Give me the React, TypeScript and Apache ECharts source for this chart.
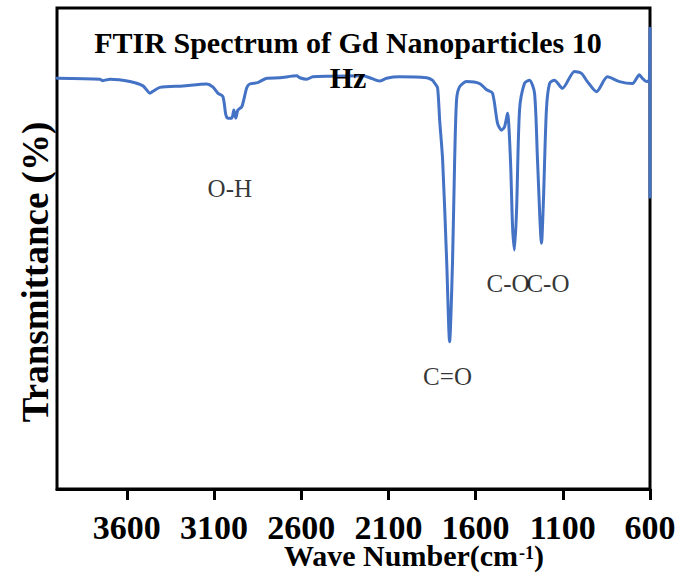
import React, { useEffect, useRef } from "react";
import * as echarts from "echarts";

// Wavenumber (cm-1), descending
const waveNumbers = [
  4000, 3754, 3737, 3696, 3582, 3507, 3467, 3450, 3410, 3278, 3141, 3107, 3078, 3049, 3032, 3021,
  2998, 2986, 2975, 2963, 2940, 2912, 2895, 2849, 2797, 2723, 2625, 2608, 2568, 2534, 2436, 2247,
  2207, 2150, 2110, 2036, 1881, 1847, 1835, 1818, 1806, 1789, 1766, 1749, 1732, 1720, 1709, 1692,
  1652, 1577, 1537, 1503, 1474, 1451, 1434, 1417, 1400, 1388, 1377, 1365, 1348, 1320, 1291, 1262,
  1245, 1222, 1211, 1194, 1176, 1148, 1102, 1033, 993, 959, 907, 844, 775, 701, 661, 644, 621, 604,
  600, 600,
];
// Transmittance (%)
const transmittance = [
  85.4, 85.2, 84.9, 85.2, 84.7, 83.8, 82.3, 82.7, 83.5, 83.8, 84.2, 83.6, 82.3, 81.6, 77.8, 77.1,
  77.1, 78.8, 77.1, 78.8, 79.5, 83.4, 84.2, 84.5, 85.4, 85.5, 85.9, 85.5, 85.2, 85.7, 85.8, 85.9,
  85.5, 84.8, 85.4, 85.7, 85.5, 85.0, 84.4, 83.4, 76.7, 68.4, 47.6, 30.6, 47.6, 68.4, 80.9, 83.6,
  84.7, 84.3, 83.0, 82.3, 76.0, 74.6, 75.3, 78.1, 68.4, 54.5, 49.7, 58.0, 78.8, 84.3, 85.0, 82.3,
  68.4, 51.1, 60.0, 78.8, 84.3, 85.0, 83.3, 86.8, 86.4, 84.7, 82.6, 85.7, 84.7, 84.3, 86.1, 85.4,
  84.7, 85.0, 95.8, 60.7,
];

const xTicks = [600, 1100, 1600, 2100, 2600, 3100, 3600];

const annotationNames = ["O-H", "C=O", "C-O", "C-O"];
const annotationX = [3009, 1761, 1414, 1185];
const annotationY = [62.4, 23.3, 42.8, 42.8];

const SERIF = "'Liberation Serif', 'Times New Roman', serif";

export default function App() {
  const ref = useRef<HTMLDivElement>(null);

  useEffect(() => {
    if (!ref.current) return;
    const chart = echarts.init(ref.current, null, { renderer: "svg" });
    const lineData = waveNumbers.map((w, i) => [w, transmittance[i]]);
    const annData = annotationNames.map((n, i) => ({ name: n, value: [annotationX[i], annotationY[i]] }));

    chart.setOption({
      animation: false,
      backgroundColor: "#fff",
      grid: {
        left: 57,
        right: 41,
        top: 8,
        bottom: 85,
        show: true,
        borderColor: "#000",
        borderWidth: 3,
        containLabel: false,
      },
      xAxis: {
        type: "value",
        inverse: true,
        min: 600,
        max: 4000,
        interval: 500,
        axisLine: { show: true, lineStyle: { color: "#000", width: 3 } },
        axisTick: { show: true, inside: false, length: 11, lineStyle: { color: "#000", width: 3 } },
        splitLine: { show: false },
        axisLabel: {
          show: true,
          margin: 25,
          color: "#000",
          fontFamily: SERIF,
          fontWeight: "bold",
          fontSize: 34,
          lineHeight: 26,
          showMaxLabel: false,
          formatter: (v: number) => (xTicks.includes(v) ? String(v) : ""),
        },
      },
      yAxis: {
        type: "value",
        min: 0,
        max: 100,
        axisLine: { show: false },
        axisTick: { show: false },
        axisLabel: { show: false },
        splitLine: { show: false },
      },
      graphic: [
        {
          type: "text",
          z: 100,
          x: 348,
          y: 25,
          style: {
            text: "FTIR Spectrum of Gd Nanoparticles 10\nHz",
            fill: "#000",
            font: `bold 30px ${SERIF}`,
            lineHeight: 35,
            textAlign: "center",
            textVerticalAlign: "top",
          },
        },
        {
          type: "text",
          z: 100,
          x: 35,
          y: 272,
          rotation: Math.PI / 2,
          style: {
            text: "Transmittance (%)",
            fill: "#000",
            font: `bold 37px ${SERIF}`,
            textAlign: "center",
            textVerticalAlign: "middle",
          },
        },
        {
          type: "text",
          z: 100,
          x: 414,
          y: 555,
          style: {
            text: "{a|Wave Number(cm}{b|-1}{a|)}",
            fill: "#000",
            textAlign: "center",
            textVerticalAlign: "middle",
            rich: {
              a: { font: `bold 30px ${SERIF}`, fill: "#000", lineHeight: 22 },
              b: { font: `bold 18px ${SERIF}`, fill: "#000", lineHeight: 12, verticalAlign: "top", padding: [0, 0, 0, 1] },
            },
          },
        },
      ],
      series: [
        {
          type: "line",
          data: lineData,
          showSymbol: false,
          symbol: "none",
          smooth: 0.25,
          clip: false,
          z: 3,
          lineStyle: { color: "#4472C4", width: 3, join: "round", cap: "round" },
        },
        {
          type: "scatter",
          data: annData,
          symbolSize: 0,
          z: 4,
          label: {
            show: true,
            position: "inside",
            formatter: (p: any) => p.name,
            color: "#000",
            fontFamily: SERIF,
            fontSize: 25,
          },
        },
      ],
    });
    return () => chart.dispose();
  }, []);

  return (
    <div
      ref={ref}
      style={{ position: "fixed", left: 0, top: 0, width: 691, height: 574, background: "#fff" }}
    />
  );
}
